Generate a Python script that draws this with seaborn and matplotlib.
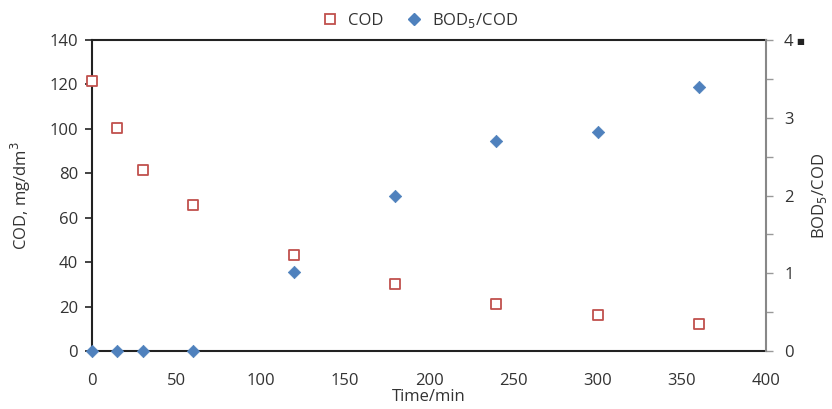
import matplotlib
matplotlib.use("Agg")
import matplotlib.pyplot as plt
import seaborn as sns
import pandas as pd
from matplotlib.lines import Line2D

time_min = [0, 15, 30, 60, 120, 180, 240, 300, 360]
cod = [121.5, 100.2, 81.3, 65.6, 43.2, 30.1, 21.1, 16.3, 12.2]
bod_cod = [0, 0, 0, 0, 1.02, 2.0, 2.7, 2.82, 3.4]

sns.set_theme(style="white")
plt.rcParams['font.family'] = ['Open Sans', 'DejaVu Sans']

df = pd.DataFrame({"time": time_min, "cod": cod, "ratio": bod_cod})

fig = plt.figure(figsize=(8.32, 4.09), dpi=100)
ax = fig.add_axes([0.1106, 0.1418, 0.8101, 0.7604])
ax2 = ax.twinx()

red = "#c0504d"
blue = "#4f81bd"
fs = 12

sns.scatterplot(data=df, x="time", y="cod", ax=ax, marker="s", s=60,
                facecolor="white", edgecolor=red, linewidth=1.3, zorder=3, clip_on=False)
sns.scatterplot(data=df, x="time", y="ratio", ax=ax2, marker="D", s=40,
                color=blue, edgecolor=blue, linewidth=0.5, zorder=4, clip_on=False)

ax.set_xlim(0, 400)
ax.set_ylim(0, 140)
ax2.set_ylim(0, 4)
ax.set_xticks(range(0, 401, 50))
ax.set_yticks(range(0, 141, 20))
ax2.set_yticks([0, 1, 2, 3, 4])
ax2.set_yticks([0.5, 1.5, 2.5, 3.5], minor=True)

tc = "#333333"
ax.tick_params(axis="both", direction="out", length=5, width=1.2, colors="#222222",
               labelcolor=tc, labelsize=fs, pad=5)
ax.tick_params(axis="x", pad=11)
ax2.tick_params(axis="y", which="both", direction="out", length=5, width=1,
                colors="#999999", labelcolor=tc, labelsize=fs, pad=8)
ax.set_xlabel("Time/min", fontsize=fs, color=tc, labelpad=0)
ax.set_ylabel("COD, mg/dm$^3$", fontsize=fs, color=tc, labelpad=12)
ax2.set_ylabel("BOD$_5$/COD", fontsize=fs, color=tc, labelpad=12)

for s in ["left", "bottom", "top"]:
    ax.spines[s].set_color("#222222")
    ax.spines[s].set_linewidth(1.5)
ax.spines["right"].set_visible(False)
for s in ["left", "bottom", "top"]:
    ax2.spines[s].set_visible(False)
ax2.spines["right"].set_color("#888888")
ax2.spines["right"].set_linewidth(1.5)

handles = [
    Line2D([], [], marker="s", linestyle="none", markersize=7, markerfacecolor="white",
           markeredgecolor=red, markeredgewidth=1.3, label="COD"),
    Line2D([], [], marker="D", linestyle="none", markersize=6, markerfacecolor=blue,
           markeredgecolor=blue, label="BOD$_5$/COD"),
]
fig.legend(handles=handles, loc="upper center", bbox_to_anchor=(0.5, 1.01), ncol=2,
           frameon=False, fontsize=fs, handletextpad=0.1, columnspacing=0.8,
           labelcolor=tc)
fig.text(0.962, 0.897, "■", fontsize=6, color="#222222", ha="center", va="center")

fig.savefig("out.png", dpi=100)
